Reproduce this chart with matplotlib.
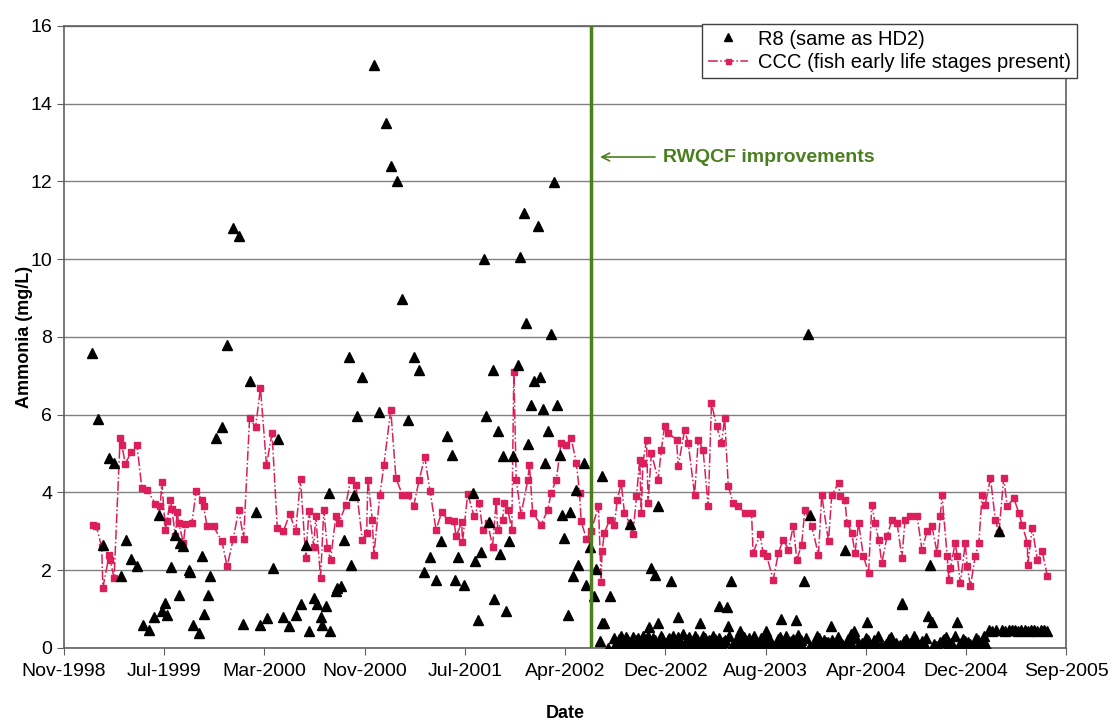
import numpy as np
import pandas as pd
import matplotlib
matplotlib.use('Agg')
import matplotlib.pyplot as plt
import matplotlib.dates as mdates

plt.rcParams['font.family'] = ['Liberation Sans', 'DejaVu Sans']

# axis start; sample dates are stored as days since this date
START = pd.Timestamp('1998-11-01')
UPGRADE = pd.Timestamp('2002-06-08')   # RWQCF improvements

# R8 (same as HD2) -- black triangles
r8_days = [69, 84, 98, 113, 125, 142, 155, 167, 182, 197, 211, 225, 237, 244, 252, 258,
           267, 277, 288, 290, 298, 311, 315, 323, 336, 344, 350, 358, 365, 379, 394, 407,
           422, 436, 447, 463, 478, 490, 507, 522, 533, 547, 561, 578, 590, 603, 611, 623,
           632, 642, 644, 653, 661, 663, 678, 682, 690, 698, 711, 715, 723, 732, 744, 773,
           786, 803, 815, 830, 842, 857, 872, 886, 898, 913, 928, 940, 955, 969, 975, 982,
           997, 1019, 1025, 1032, 1040, 1048, 1053, 1061, 1069, 1072, 1082, 1088, 1094,
           1103, 1111, 1119, 1132, 1138, 1147, 1153, 1158, 1165, 1173, 1182, 1188, 1194,
           1200, 1208, 1215, 1223, 1230, 1236, 1242, 1248, 1257, 1263, 1269, 1278, 1283,
           1297, 1303, 1313, 1322, 1328, 1336, 1342, 1347, 1357, 1363,
           1413, 1465, 1475, 1482, 1515, 1653, 1663, 1847, 1855, 1861, 1948, 2090, 2155,
           2161, 2332,
           1342, 1460, 1482, 1532, 1587, 1633, 1657, 1685, 1752, 1789, 1825, 1830, 1912,
           1970, 2003, 2090, 2165, 2228,
           1372, 1380, 1390, 1398, 1405, 1412, 1420, 1428, 1435, 1445, 1452, 1470, 1478,
           1488, 1495, 1502, 1510, 1520, 1528, 1535, 1545, 1552, 1560, 1570, 1578, 1585,
           1595, 1602, 1610, 1620, 1628, 1635, 1645, 1660, 1670, 1678, 1688, 1695, 1705,
           1712, 1720, 1730, 1738, 1748, 1755, 1762, 1775, 1785, 1792, 1800, 1810, 1818,
           1835, 1842, 1852, 1870, 1878, 1888, 1895, 1905, 1920, 1930, 1940, 1955, 1962,
           1980, 1990, 2000, 2010, 2020, 2030, 2045, 2055, 2062, 2072, 2080, 2100, 2110,
           2120, 2130, 2140, 2150, 2170, 2180, 2192, 2200, 2212, 2222, 2232, 2242, 2255,
           2265, 2275, 2285, 2295,
           1376, 1385, 1394, 1402, 1408, 1416, 1424, 1432, 1440, 1449, 1456, 1465, 1474,
           1483, 1491, 1499, 1506, 1515, 1524, 1531, 1540, 1549, 1556, 1565, 1574, 1581,
           1590, 1598, 1606, 1615, 1624, 1631, 1640, 1650, 1665, 1674, 1683, 1691, 1700,
           1708, 1716, 1725, 1734, 1743, 1751, 1758, 1768, 1780, 1788, 1796, 1805, 1814,
           1822, 1839, 1860, 1874, 1883, 1891, 1900, 1908, 1916, 1925, 1935, 1946, 1958,
           1966, 1975, 1985, 1995, 2005, 2015, 2025, 2038, 2050, 2058, 2067, 2076, 2085,
           2095, 2105, 2115, 2125, 2135, 2145, 2175, 2186, 2196, 2206, 2217, 2237, 2248,
           2260, 2270, 2280, 2290, 2300,
           2308, 2316, 2324, 2340, 2348, 2356, 2364, 2372, 2380, 2388, 2396, 2404, 2412,
           2420, 2428, 2436, 2444, 2452]
r8_vals = [7.6, 5.9, 2.66, 4.9, 4.77, 1.86, 2.79, 2.3, 2.1, 0.6, 0.47, 0.8, 3.43, 0.94, 1.16, 0.84,
           2.08, 2.9, 1.37, 2.7, 2.63, 2.0, 1.95, 0.6, 0.39, 2.36, 0.88, 1.37, 1.86, 5.4, 5.68, 7.8,
           10.8, 10.6, 0.62, 6.88, 3.49, 0.6, 0.77, 2.06, 5.38, 0.8, 0.56, 0.86, 1.14, 2.66, 0.43, 1.29,
           1.12, 0.81, 0.58, 1.07, 3.99, 0.43, 1.46, 1.55, 1.59, 2.79, 7.48, 2.14, 3.94, 5.97, 6.98, 15.0,
           6.08, 13.5, 12.4, 12.0, 8.98, 5.87, 7.48, 7.16, 1.95, 2.34, 1.74, 2.74, 5.46, 4.97, 1.76, 2.34,
           1.63, 3.99, 2.25, 0.73, 2.46, 10.0, 5.97, 3.23, 7.16, 1.26, 5.57, 2.43, 4.95,
           0.94, 2.74, 4.95, 7.28, 10.07, 11.18, 8.37, 5.25, 6.26, 6.86, 10.86, 6.98, 6.15,
           4.76, 5.57, 8.08, 11.98, 6.26, 4.97, 3.43, 2.83, 0.86, 3.51, 1.84, 4.07, 2.14,
           4.76, 1.63, 2.61, 1.33, 2.03, 0.17, 4.43, 0.64, 0.0, 1.33,
           3.2, 2.06, 1.89, 3.64, 1.72, 1.05, 1.72, 1.72, 8.08, 3.43, 2.53, 1.14, 0.83,
           2.14, 3.0,
           0.64, 0.54, 0.64, 0.81, 0.64, 1.07, 0.56, 0.43, 0.45, 0.75, 0.73, 0.34, 0.56,
           0.45, 0.66, 1.16, 0.66, 0.66,
           0.25, 0.05, 0.3, 0.15, 0.22, 0.1, 0.28, 0.2, 0.08, 0.3, 0.12, 0.25, 0.05,
           0.32, 0.18, 0.1, 0.25, 0.3, 0.08, 0.2, 0.35, 0.15, 0.28, 0.05, 0.22, 0.12,
           0.3, 0.1, 0.2, 0.32, 0.06, 0.25, 0.15, 0.3, 0.1, 0.22, 0.05, 0.28, 0.18,
           0.12, 0.3, 0.08, 0.25, 0.35, 0.1, 0.2, 0.05, 0.28, 0.15, 0.3, 0.08, 0.22,
           0.12, 0.05, 0.25, 0.1, 0.3, 0.06, 0.2, 0.15, 0.05, 0.28, 0.1, 0.22, 0.35,
           0.05, 0.12, 0.25, 0.08, 0.2, 0.3, 0.05, 0.15, 0.28, 0.1, 0.05, 0.22, 0.12,
           0.3, 0.06, 0.18, 0.25, 0.1, 0.05, 0.2, 0.28, 0.12, 0.3, 0.08, 0.22, 0.15,
           0.05, 0.25, 0.1, 0.3,
           0.12, 0.22, 0.05, 0.28, 0.1, 0.18, 0.05, 0.25, 0.15, 0.08, 0.3, 0.12, 0.2,
           0.08, 0.25, 0.05, 0.2, 0.1, 0.15, 0.28, 0.05, 0.12, 0.22, 0.1, 0.3, 0.05,
           0.18, 0.25, 0.08, 0.12, 0.22, 0.05, 0.1, 0.2, 0.06, 0.15, 0.3, 0.08, 0.12,
           0.25, 0.05, 0.18, 0.1, 0.2, 0.08, 0.15, 0.05, 0.22, 0.1, 0.12, 0.05, 0.18,
           0.1, 0.2, 0.05, 0.12, 0.25, 0.08, 0.15, 0.05, 0.2, 0.1, 0.12, 0.05, 0.18,
           0.08, 0.25, 0.05, 0.12, 0.2, 0.08, 0.15, 0.05, 0.1, 0.22, 0.05, 0.12, 0.08,
           0.18, 0.05, 0.1, 0.2, 0.08, 0.12, 0.05, 0.15, 0.22, 0.08, 0.05, 0.12, 0.18,
           0.1, 0.05, 0.2, 0.12, 0.08,
           0.47, 0.45, 0.47, 0.46, 0.45, 0.47, 0.46, 0.47, 0.45, 0.46, 0.47, 0.45, 0.46,
           0.47, 0.45, 0.46, 0.47, 0.45]

# CCC (fish early life stages present) -- pink dash-dot line with squares
ccc_days = [73, 80, 94, 97, 113, 115, 125, 140, 144, 153, 167, 182, 194, 207, 228, 240,
            244, 253, 257, 265, 269, 278, 282, 286, 298, 303, 319, 330, 344, 348, 357, 373,
            394, 407, 422, 436, 448, 463, 478, 490, 505, 519, 532, 547, 563, 578, 590, 603,
            611, 623, 628, 640, 648, 657, 665, 678, 686, 703, 715, 728, 744, 755, 758, 769,
            773, 788, 798, 815, 828, 844, 857, 872, 886, 900, 913, 928, 942, 957, 973, 978,
            992, 994, 1007, 1023, 1036, 1044, 1057, 1069, 1078, 1082, 1094, 1098, 1107, 1117,
            1122, 1128, 1140, 1157, 1161, 1169, 1190, 1207, 1215, 1228, 1240, 1253, 1265,
            1278, 1286, 1290, 1303, 1315, 1333, 1340, 1342, 1348, 1361, 1373, 1380, 1390,
            1398, 1413, 1419, 1428, 1436, 1440, 1444, 1453, 1457, 1465, 1482, 1490, 1498,
            1507, 1528, 1532, 1548, 1557, 1573, 1582, 1594, 1607, 1615, 1628, 1640, 1648,
            1657, 1669, 1682, 1698, 1715, 1719, 1736, 1744, 1753, 1769, 1782, 1794, 1807,
            1819, 1828, 1840, 1848, 1865, 1882, 1890, 1907, 1915, 1932, 1936, 1948, 1953,
            1965, 1973, 1982, 1994, 2007, 2015, 2023, 2032, 2040, 2053, 2065, 2078, 2090,
            2098, 2111, 2128, 2140, 2153, 2165, 2178, 2186, 2190, 2203, 2207, 2211, 2223,
            2228, 2236, 2248, 2253, 2261, 2273, 2282, 2290, 2298, 2311, 2323, 2332, 2344,
            2353, 2369, 2382, 2390, 2403, 2404, 2415, 2428, 2440, 2453]
ccc_vals = [3.17, 3.15, 2.6, 1.55, 2.4, 2.27, 1.8, 5.4, 5.23, 4.74, 5.03, 5.23, 4.12, 4.07, 3.71, 3.64,
            4.26, 3.04, 3.26, 3.81, 3.58, 2.87, 3.51, 3.22, 2.7, 3.19, 3.22, 4.05, 3.8, 3.64, 3.13, 3.13,
            2.74, 2.1, 2.8, 3.56, 2.8, 5.92, 5.68, 6.69, 4.71, 5.53, 3.08, 3.0, 3.45, 3.0, 4.35, 2.32,
            3.52, 2.61, 3.39, 1.8, 3.54, 2.56, 2.27, 3.39, 3.22, 3.69, 4.33, 4.2, 2.79, 2.96, 4.33, 3.3,
            2.4, 3.94, 4.71, 6.13, 4.37, 3.94, 3.94, 3.64, 4.33, 4.91, 4.05, 3.04, 3.49, 3.3, 3.26, 2.87,
            3.23, 2.72, 3.97, 3.39, 3.73, 3.04, 3.22, 2.61, 3.77, 3.04, 3.3, 3.73, 3.56, 3.04,
            7.09, 4.33, 3.43, 4.33, 4.72, 3.47, 3.17, 3.56, 3.99, 4.33, 5.27, 5.23, 5.4,
            4.76, 3.99, 3.26, 2.81, 3.0, 3.66, 1.71, 2.49, 2.96, 3.3, 3.17, 3.81, 4.24,
            3.47, 3.17, 2.92, 3.9, 4.84, 3.47, 4.76, 5.36, 3.73, 5.02, 4.33, 5.1, 5.7,
            5.53, 5.36, 4.67, 5.61, 5.27, 3.94, 5.36, 5.1, 3.64, 6.3, 5.7, 5.27, 5.92,
            4.16, 3.73, 3.64, 3.47, 3.47, 2.44, 2.92, 2.44, 2.36, 1.76, 2.44, 2.79, 2.53,
            3.13, 2.27, 2.66, 3.56, 3.13, 2.4, 3.94, 2.74, 3.94, 4.24, 3.9, 3.81, 3.22,
            2.96, 2.44, 3.22, 2.36, 1.93, 3.69, 3.22, 2.79, 2.19, 2.87, 3.3, 3.22, 2.32,
            3.3, 3.39, 3.39, 2.53, 3.0, 3.13, 2.44, 3.39, 3.94, 2.36, 1.76, 2.06, 2.7,
            2.36, 1.67, 2.7, 2.1, 1.59, 2.36, 2.7, 3.94, 3.69, 4.37, 3.3, 2.96, 4.37,
            3.64, 3.86, 3.47, 3.17, 2.7, 2.14, 3.09, 2.27, 2.49, 1.84]

r8_dates = START + pd.to_timedelta(r8_days, unit='D')
ccc_dates = START + pd.to_timedelta(ccc_days, unit='D')

fig = plt.figure(figsize=(11.13, 7.22), dpi=100)
ax = fig.add_axes([0.0575, 0.1025, 0.9005, 0.8615])

pink = '#DC1F5A'
green = '#4A7F1E'

ax.plot(ccc_dates, ccc_vals, linestyle='-.', color=pink, linewidth=1.1,
        marker='s', markersize=4.5, markeredgecolor=pink, markerfacecolor=pink,
        label='CCC (fish early life stages present)', zorder=3)
ax.plot(r8_dates, r8_vals, linestyle='none', marker='^', markersize=7.5,
        color='black', label='R8 (same as HD2)', zorder=4)

ax.axvline(UPGRADE, color=green, linewidth=2.5, zorder=5)
ax.annotate('RWQCF improvements', xy=(UPGRADE + pd.Timedelta(days=22), 12.63),
            xytext=(UPGRADE + pd.Timedelta(days=180), 12.63),
            color=green, fontsize=14, fontweight='bold', va='center', ha='left',
            arrowprops=dict(arrowstyle='->', color=green, lw=1.2, shrinkA=4, shrinkB=0))

# axes: date axis with a tick every 250 days
ax.set_xlim(START, START + pd.Timedelta(days=2500))
ax.set_xticks(START + pd.to_timedelta(np.arange(0, 2501, 250), unit='D'))
ax.xaxis.set_major_formatter(mdates.DateFormatter('%b-%Y'))
ax.set_ylim(0, 16)
ax.set_yticks(np.arange(0, 17, 2))
ax.tick_params(axis='both', labelsize=14, direction='out', length=5, color='#606060')
ax.tick_params(axis='x', pad=6)
ax.grid(axis='y', color='#808080', linewidth=1.0)
ax.set_axisbelow(True)
for s in ax.spines.values():
    s.set_color('#606060')
    s.set_linewidth(1.2)

ax.set_xlabel('Date', fontsize=13, fontweight='bold', labelpad=18)
ax.set_ylabel('Ammonia (mg/L)', fontsize=13, fontweight='bold', labelpad=-2)

h, l = ax.get_legend_handles_labels()
leg = ax.legend(h[::-1], l[::-1], loc='upper right', bbox_to_anchor=(1.011, 1.004),
                fontsize=14.5, frameon=True, fancybox=False, edgecolor='#404040',
                framealpha=1, borderaxespad=0, handlelength=2.0, labelspacing=0.2,
                borderpad=0.3, handletextpad=0.5, markerscale=0.8)
leg.get_frame().set_linewidth(1.0)

fig.savefig('out.png', dpi=100)
